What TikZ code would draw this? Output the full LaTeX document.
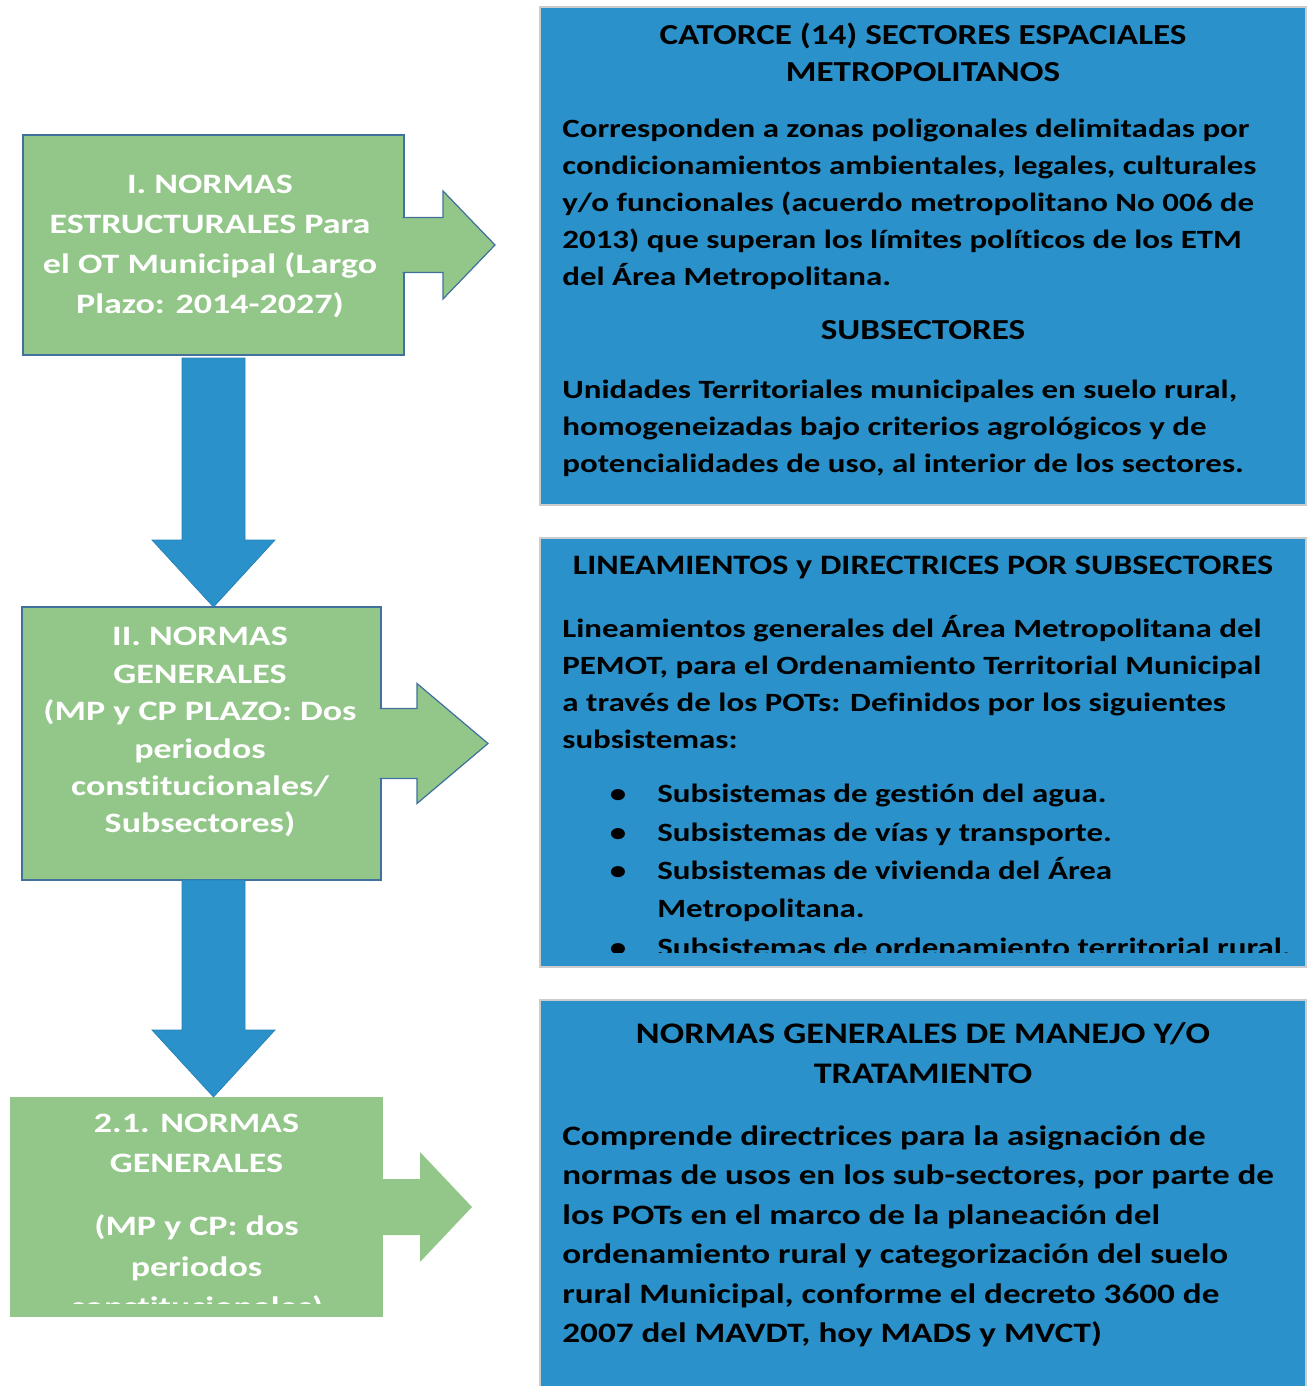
\documentclass[tikz,border=0pt]{standalone}
\usepackage{fontspec}
\setmainfont{Carlito}[FakeStretch=1.25,Ligatures=NoCommon]
\newfontfamily\titlefont{Carlito}[FakeStretch=1.21,Ligatures=NoCommon]
\newfontfamily\greenfont{Carlito}[FakeStretch=1.28,Ligatures=NoCommon]
\usetikzlibrary{calc}
\definecolor{VerdeNorma}{RGB}{147,198,137}
\definecolor{AzulSector}{RGB}{42,145,202}
\definecolor{BordeVerde}{RGB}{65,113,156}
\definecolor{BordeAzul}{RGB}{38,128,182}

\begin{document}
\begin{tikzpicture}[
  greenbox/.style={fill=VerdeNorma,draw=BordeVerde,line width=0.7pt,inner sep=0pt,outer sep=0pt,anchor=north west},
  bluebox/.style={fill=AzulSector,draw=gray!40,line width=0.7pt,inner sep=0pt,outer sep=0pt,anchor=north west},
  greentext/.style={text=white,font=\greenfont\bfseries\fontsize{16}{22.8}\selectfont,align=center,inner sep=0pt,anchor=north},
  bluetitle/.style={font=\titlefont\bfseries\fontsize{16.5}{21}\selectfont,align=center,inner sep=0pt,anchor=north},
  bluetext/.style={font=\bfseries\fontsize{15}{21}\selectfont,align=left,inner sep=0pt,anchor=north west},
  greenarrow/.style={fill=VerdeNorma,draw=BordeVerde,line width=0.7pt},
  bluearrow/.style={fill=AzulSector,draw=BordeAzul,line width=0.4pt}]
  \useasboundingbox (0,0) rectangle (26.18,-27.72);

  % cajas verdes (normas)
  \node[greenbox,minimum width=7.62cm,minimum height=4.40cm] (g1) at (0.46,-2.70) {};
  \node[greenbox,minimum width=7.18cm,minimum height=5.46cm] (g2) at (0.44,-12.14) {};
  \node[greenbox,draw=none,minimum width=7.46cm,minimum height=4.40cm] (g3) at (0.20,-21.94) {};

  % cajas azules (sectores)
  \node[bluebox,minimum width=15.32cm,minimum height=9.96cm] (b1) at (10.80,-0.14) {};
  \node[bluebox,minimum width=15.32cm,minimum height=8.58cm] (b2) at (10.80,-10.76) {};
  \node[bluebox,minimum width=15.32cm,minimum height=7.80cm] (b3) at (10.80,-20.00) {};

  % flechas hacia la derecha
  \draw[greenarrow] ($(g1.east)+(-0.03,0.55)$) -- ++(0.81,0) -- ++(0,0.53) -- ++(1.04,-1.08)
    -- ++(-1.04,-1.08) -- ++(0,0.53) -- ++(-0.81,0);
  \draw[greenarrow] ($(g2.east)+(-0.03,0.70)$) -- ++(0.75,0) -- ++(0,0.50) -- ++(1.42,-1.20)
    -- ++(-1.42,-1.20) -- ++(0,0.50) -- ++(-0.75,0);
  \fill[VerdeNorma] ($(g3.east)+(-0.03,0.56)$) -- ++(0.77,0) -- ++(0,0.54) -- ++(1.04,-1.10)
    -- ++(-1.04,-1.10) -- ++(0,0.54) -- ++(-0.77,0) -- cycle;

  % flechas hacia abajo
  \coordinate (t1) at (g1.south |- g2.north);
  \coordinate (t2) at (g1.south |- g3.north);
  \coordinate (s2) at (g1.south |- g2.south);
  \draw[bluearrow] ($(g1.south)+(-0.63,-0.06)$) -- ($(t1)+(-0.63,1.34)$) -- ($(t1)+(-1.23,1.34)$) -- (t1)
    -- ($(t1)+(1.23,1.34)$) -- ($(t1)+(0.63,1.34)$) -- ($(g1.south)+(0.63,-0.06)$) -- cycle;
  \draw[bluearrow] ($(s2)+(-0.63,0)$) -- ($(t2)+(-0.63,1.34)$) -- ($(t2)+(-1.23,1.34)$) -- (t2)
    -- ($(t2)+(1.23,1.34)$) -- ($(t2)+(0.63,1.34)$) -- ($(s2)+(0.63,0)$) -- cycle;

  % textos de las cajas verdes
  \node[greentext] (g1txt) at ($(g1.north)+(-0.07,-0.80)$)
    {I. NORMAS\\ESTRUCTURALES Para\\el OT Municipal (Largo\\Plazo: 2014-2027)};
  \node[greentext,font=\greenfont\bfseries\fontsize{16}{21.3}\selectfont] (g2txt) at ($(g2.north)+(-0.03,-0.40)$)
    {II. NORMAS\\GENERALES\\(MP y CP PLAZO: Dos\\periodos\\constitucionales/\\Subsectores)};
  \begin{scope}
    \clip (g3.north west) rectangle ($(g3.south east)+(0,0.28)$);
    \node[greentext] (g3txt) at ($(g3.north)+(0,-0.34)$)
      {2.1. NORMAS\\GENERALES\\[0.46cm](MP y CP: dos\\periodos\\constitucionales)};
  \end{scope}

  % textos de las cajas azules
  \node[bluetitle] (b1tit) at ($(b1.north)+(0,-0.32)$) {CATORCE (14) SECTORES ESPACIALES\\METROPOLITANOS};
  \node[bluetext] (b1txt) at ($(b1.north west)+(0.44,-2.24)$)
    {Corresponden a zonas poligonales delimitadas por\\condicionamientos ambientales, legales, culturales\\y/o funcionales (acuerdo metropolitano No 006 de\\2013) que superan los límites políticos de los ETM\\del Área Metropolitana.};
  \node[bluetitle] (b1sub) at ($(b1.north)+(0,-6.26)$) {SUBSECTORES};
  \node[bluetext] (b1uni) at ($(b1.north west)+(0.44,-7.46)$)
    {Unidades Territoriales municipales en suelo rural,\\homogeneizadas bajo criterios agrológicos y de\\potencialidades de uso, al interior de los sectores.};

  \node[bluetitle,font=\titlefont\bfseries\fontsize{16}{21}\selectfont] (b2tit) at ($(b2.north)+(0,-0.36)$)
    {LINEAMIENTOS y DIRECTRICES POR SUBSECTORES};
  \node[bluetext] (b2txt) at ($(b2.north west)+(0.44,-1.54)$)
    {Lineamientos generales del Área Metropolitana del\\PEMOT, para el Ordenamiento Territorial Municipal\\a través de los POTs: Definidos por los siguientes\\subsistemas:};
  \begin{scope}
    \clip (b2.north west) rectangle ($(b2.south east)+(0,0.30)$);
    \node[bluetext,font=\bfseries\fontsize{15}{21.8}\selectfont] (b2lst) at ($(b2.north west)+(2.34,-4.92)$)
      {\llap{•\hspace{0.62cm}}Subsistemas de gestión del agua.\\
       \llap{•\hspace{0.62cm}}Subsistemas de vías y transporte.\\
       \llap{•\hspace{0.62cm}}Subsistemas de vivienda del Área\\
       Metropolitana.\\
       \llap{•\hspace{0.62cm}}Subsistemas de ordenamiento territorial rural.};
  \end{scope}

  \node[bluetitle,font=\titlefont\bfseries\fontsize{17}{22.8}\selectfont] (b3tit) at ($(b3.north)+(0,-0.44)$)
    {NORMAS GENERALES DE MANEJO Y/O\\TRATAMIENTO};
  \node[bluetext,font=\bfseries\fontsize{16}{22.5}\selectfont] (b3txt) at ($(b3.north west)+(0.44,-2.50)$)
    {Comprende directrices para la asignación de\\normas de usos en los sub-sectores, por parte de\\los POTs en el marco de la planeación del\\ordenamiento rural y categorización del suelo\\rural Municipal, conforme el decreto 3600 de\\2007 del MAVDT, hoy MADS y MVCT)};
\end{tikzpicture}
\end{document}
